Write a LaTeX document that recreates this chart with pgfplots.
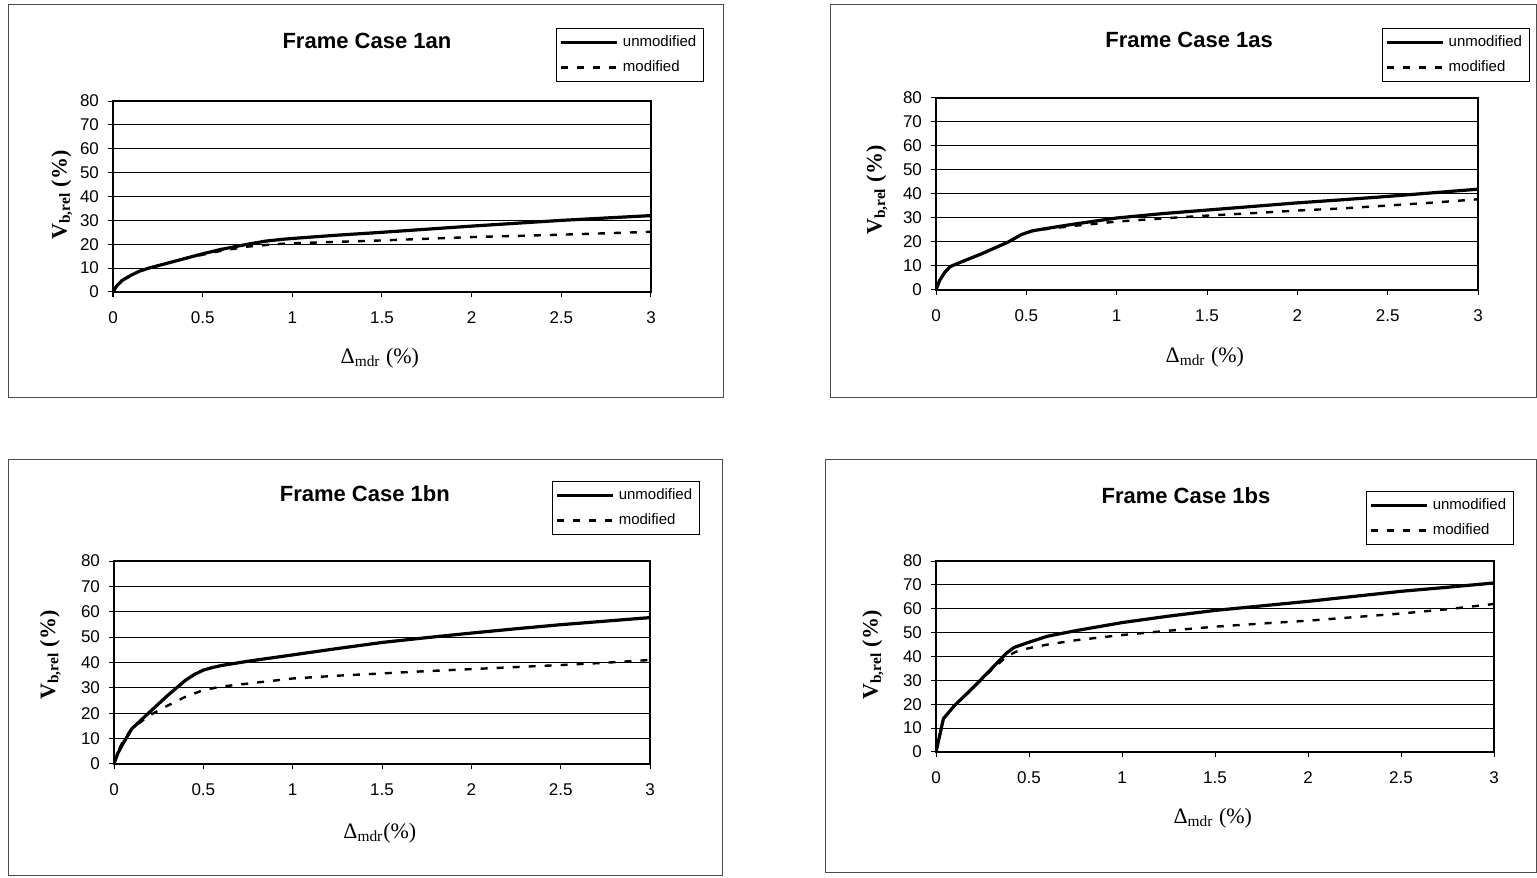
\documentclass[border=0pt]{standalone}
\usepackage{fontspec}
\setmainfont{Liberation Sans}
\newfontfamily\serif{Liberation Serif}
\usepackage{pgfplots}
\pgfplotsset{compat=1.18}
\pgfplotsset{
  panel/.style={
    scale only axis, anchor=south west,
    xmin=0, xmax=3, ymin=0, ymax=80,
    xtick={0,0.5,1,1.5,2,2.5,3}, ytick={0,10,...,80},
    ymajorgrids, major grid style={black, line width=0.5pt},
    axis line style={black, line width=0.6pt},
    tick align=outside, major tick length=2.5pt, tick pos=left,
    tick style={black, line width=0.5pt},
    /pgf/number format/assume math mode=true,
    ticklabel style={font=\fontsize{8.5}{10}\selectfont},
    xticklabel style={yshift=-4pt},
    yticklabel style={xshift=-1pt},
    every axis title/.style={anchor=center, font=\fontsize{11}{13}\selectfont\bfseries},
    every axis x label/.style={anchor=center, font=\fontsize{11}{13}\selectfont\serif},
    every axis y label/.style={anchor=center, rotate=90, font=\fontsize{11}{13}\selectfont\serif\bfseries},
    legend style={draw=black, line width=0.5pt, font=\fontsize{7.5}{9}\selectfont,
      anchor=center, inner sep=1.5pt, row sep=1.5pt, cells={anchor=west}},
    legend image code/.code={\draw[##1] (0pt,0pt) -- (28pt,0pt);},
  },
  unmod/.style={black, line width=1.6pt},
  mod/.style={black, line width=1.2pt, dash pattern=on 3.5pt off 4.5pt},
}
\begin{document}
\begin{tikzpicture}
\useasboundingbox (0,0) rectangle (768.5pt,439pt);
% panel frames
\draw[black!70, line width=0.5pt] (4pt,240pt) rectangle (361.5pt,436.5pt);
\draw[black!70, line width=0.5pt] (415pt,240pt) rectangle (768pt,436.5pt);
\draw[black!70, line width=0.5pt] (4pt,1pt) rectangle (361pt,209pt);
\draw[black!70, line width=0.5pt] (412.5pt,2.5pt) rectangle (768pt,209pt);

% Panel 1an
\begin{axis}[panel, at={(56.5pt,293pt)}, width=269pt, height=95.5pt,
  title={Frame Case 1an}, title style={at={(axis description cs:0.472,1.314)}},
  xlabel={Δ\textsubscript{mdr} (\%)}, xlabel style={at={(axis description cs:0.496,-0.346)}},
  ylabel={V\textsubscript{b,rel} (\%)}, ylabel style={at={(axis description cs:-0.095,0.508)}},
  legend style={at={(axis description cs:0.961,1.241)}}]
\addplot[unmod] coordinates {(0,0) (0.02,2.5) (0.05,4.8) (0.1,7) (0.15,8.8) (0.2,10) (0.3,12) (0.4,14) (0.5,16) (0.6,17.8) (0.75,20) (0.85,21.3) (0.95,22.1) (1.05,22.7) (1.25,23.8) (1.5,25) (1.75,26.3) (2.0,27.6) (2.25,28.8) (2.5,30) (2.75,31) (3.0,32)};
\addlegendentry{unmodified}
\addplot[mod] coordinates {(0,0) (0.02,2.5) (0.05,4.8) (0.1,7) (0.15,8.8) (0.2,10) (0.3,12) (0.4,14) (0.5,15.6) (0.6,17.2) (0.75,19) (0.9,20) (1.0,20.4) (1.25,21) (1.5,21.6) (1.75,22.3) (2.0,23) (2.25,23.5) (2.5,24) (2.75,24.6) (3.0,25.2)};
\addlegendentry{modified}
\end{axis}

% Panel 1as
\begin{axis}[panel, at={(468pt,294pt)}, width=271pt, height=96pt,
  title={Frame Case 1as}, title style={at={(axis description cs:0.467,1.302)}},
  xlabel={Δ\textsubscript{mdr} (\%)}, xlabel style={at={(axis description cs:0.496,-0.349)}},
  ylabel={V\textsubscript{b,rel} (\%)}, ylabel style={at={(axis description cs:-0.109,0.52)}},
  legend style={at={(axis description cs:0.959,1.224)}}]
\addplot[unmod] coordinates {(0,0) (0.02,4) (0.05,7.5) (0.08,9.8) (0.15,12) (0.25,15) (0.4,20) (0.47,23) (0.53,24.6) (0.6,25.5) (0.75,27.3) (1.0,30) (1.25,31.8) (1.5,33.3) (1.75,34.8) (2.0,36.3) (2.25,37.6) (2.5,39) (2.75,40.5) (3.0,42)};
\addlegendentry{unmodified}
\addplot[mod] coordinates {(0,0) (0.02,4) (0.05,7.5) (0.08,9.8) (0.15,12) (0.25,15) (0.4,20) (0.47,23) (0.53,24.5) (0.6,25.3) (0.75,26.6) (1.0,28.5) (1.25,29.8) (1.5,31) (1.75,32) (2.0,33.1) (2.25,34) (2.5,35.2) (2.75,36.4) (3.0,37.8)};
\addlegendentry{modified}
\end{axis}

% Panel 1bn
\begin{axis}[panel, at={(57pt,57pt)}, width=268pt, height=101.5pt,
  title={Frame Case 1bn}, title style={at={(axis description cs:0.468,1.33)}},
  xlabel={Δ\textsubscript{mdr}(\%)}, xlabel style={at={(axis description cs:0.496,-0.34)}},
  ylabel={V\textsubscript{b,rel} (\%)}, ylabel style={at={(axis description cs:-0.119,0.537)}},
  legend style={at={(axis description cs:0.955,1.261)}}]
\addplot[unmod] coordinates {(0,0) (0.02,4) (0.05,8) (0.1,13.9) (0.2,20.5) (0.3,27) (0.4,33) (0.45,35.3) (0.5,37) (0.55,38) (0.6,38.8) (0.75,40.5) (1.0,43) (1.25,45.5) (1.5,47.9) (1.75,49.8) (2.0,51.6) (2.25,53.3) (2.5,54.9) (2.75,56.3) (3.0,57.7)};
\addlegendentry{unmodified}
\addplot[mod] coordinates {(0,0) (0.02,4.5) (0.05,9) (0.1,14) (0.2,19.2) (0.3,23) (0.4,26.5) (0.5,29.1) (0.6,30.5) (0.75,31.7) (1.0,33.7) (1.25,34.8) (1.5,35.7) (1.75,36.6) (2.0,37.4) (2.25,38.2) (2.5,39) (2.75,39.9) (3.0,41)};
\addlegendentry{modified}
\end{axis}

% Panel 1bs
\begin{axis}[panel, at={(468pt,63pt)}, width=279pt, height=95.5pt,
  title={Frame Case 1bs}, title style={at={(axis description cs:0.448,1.34)}},
  xlabel={Δ\textsubscript{mdr} (\%)}, xlabel style={at={(axis description cs:0.496,-0.346)}},
  ylabel={V\textsubscript{b,rel} (\%)}, ylabel style={at={(axis description cs:-0.113,0.508)}},
  legend style={at={(axis description cs:0.903,1.225)}}]
\addplot[unmod] coordinates {(0,0) (0.02,7) (0.04,14) (0.1,19.5) (0.2,27) (0.3,35) (0.38,41.5) (0.42,43.8) (0.5,46) (0.6,48.5) (0.75,50.8) (1.0,54.2) (1.25,56.9) (1.5,59.3) (1.75,61.2) (2.0,63.1) (2.25,65.2) (2.5,67.3) (2.75,69) (3.0,70.8)};
\addlegendentry{unmodified}
\addplot[mod] coordinates {(0,0) (0.02,7) (0.04,14) (0.1,19.5) (0.2,27) (0.3,34.5) (0.38,40) (0.43,42) (0.5,43.5) (0.6,45) (0.75,46.8) (1.0,49) (1.25,50.8) (1.5,52.5) (1.75,53.8) (2.0,55) (2.25,56.5) (2.5,58) (2.75,59.8) (3.0,62)};
\addlegendentry{modified}
\end{axis}
\end{tikzpicture}
\end{document}
